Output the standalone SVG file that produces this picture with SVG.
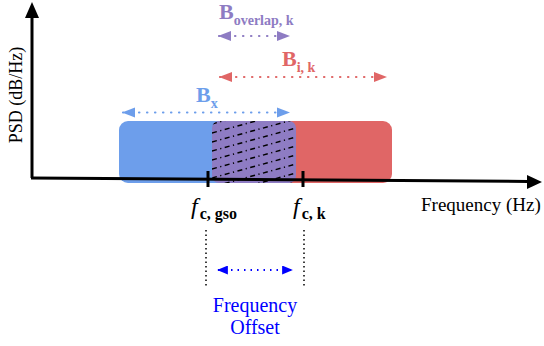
<svg xmlns="http://www.w3.org/2000/svg" width="544" height="346" viewBox="0 0 544 346">
<style>
.serif{font-family:"Liberation Serif","Times New Roman",serif}
.b{font-weight:bold}
.dot{fill:none;stroke-width:2.2;stroke-dasharray:0.4 7.6;stroke-linecap:round}
.hatch{stroke:#000;stroke-width:1.4;stroke-dasharray:5 3.5 1.2 3.5;fill:none}
</style>
<defs>
<marker id="hb" viewBox="0 0 13 10" refX="12" refY="5" markerWidth="6" markerHeight="4.6" orient="auto-start-reverse" markerUnits="strokeWidth"><path d="M0,0L13,5L0,10z" fill="#6d9eeb"/></marker>
<marker id="hr" viewBox="0 0 13 10" refX="12" refY="5" markerWidth="6" markerHeight="4.6" orient="auto-start-reverse" markerUnits="strokeWidth"><path d="M0,0L13,5L0,10z" fill="#e06666"/></marker>
<marker id="hp" viewBox="0 0 13 10" refX="12" refY="5" markerWidth="6" markerHeight="4.6" orient="auto-start-reverse" markerUnits="strokeWidth"><path d="M0,0L13,5L0,10z" fill="#8e7cc3"/></marker>
<marker id="hf" viewBox="0 0 12 10" refX="11" refY="5" markerWidth="6" markerHeight="5" orient="auto-start-reverse" markerUnits="strokeWidth"><path d="M0,0L12,5L0,10z" fill="#0000ff"/></marker>
<clipPath id="ov"><rect x="212" y="121" width="84" height="62" rx="7"/></clipPath>
</defs>
<g id="bands">
<rect id="band-x" x="119" y="121" width="185" height="62" rx="9" fill="#6d9eeb"/>
<rect id="band-ik" x="280" y="121" width="112" height="62" rx="9" fill="#e06666"/>
<g id="band-overlap">
<rect x="212" y="121" width="84" height="62" rx="7" fill="#8e7cc3"/>
<g clip-path="url(#ov)" class="hatch">
<line x1="212" y1="124" x2="296" y2="101"/>
<line x1="212" y1="133" x2="296" y2="110"/>
<line x1="212" y1="142" x2="296" y2="119"/>
<line x1="212" y1="151" x2="296" y2="128"/>
<line x1="212" y1="160" x2="296" y2="137"/>
<line x1="212" y1="169" x2="296" y2="146"/>
<line x1="212" y1="178" x2="296" y2="155"/>
<line x1="212" y1="187" x2="296" y2="164"/>
<line x1="212" y1="196" x2="296" y2="173"/>
<line x1="212" y1="205" x2="296" y2="182"/>
</g>
</g>
</g>
<g id="axes">
<line x1="32" y1="178" x2="32" y2="16" stroke="#000" stroke-width="3"/>
<path d="M32,2L25,18L39,18z" fill="#000"/>
<line x1="31" y1="178" x2="528" y2="181.5" stroke="#000" stroke-width="3"/>
<path d="M542,182L527,175L527,189z" fill="#000"/>
<line x1="208" y1="171" x2="208" y2="187" stroke="#000" stroke-width="3"/>
<line x1="303" y1="171" x2="303" y2="187" stroke="#000" stroke-width="3"/>
<text class="serif" font-size="18" transform="translate(22,95) rotate(-90)" text-anchor="middle">PSD (dB/Hz)</text>
<text class="serif" font-size="19" x="421" y="211">Frequency (Hz)</text>
</g>
<g id="connectors">
<line class="dot" x1="123" y1="112.5" x2="289" y2="112.5" stroke="#6d9eeb" marker-start="url(#hb)" marker-end="url(#hb)"/>
<line class="dot" x1="220" y1="77" x2="386" y2="77" stroke="#e06666" marker-start="url(#hr)" marker-end="url(#hr)"/>
<line class="dot" x1="219" y1="36" x2="289" y2="36" stroke="#8e7cc3" marker-start="url(#hp)" marker-end="url(#hp)"/>
<line x1="206" y1="230" x2="206" y2="286" stroke="#000" stroke-width="1.5" stroke-dasharray="1.5 3"/>
<line x1="304" y1="230" x2="304" y2="286" stroke="#000" stroke-width="1.5" stroke-dasharray="1.5 3"/>
<line x1="218" y1="270" x2="292" y2="270" stroke="#0000ff" stroke-width="1.8" stroke-dasharray="1.5 5" marker-start="url(#hf)" marker-end="url(#hf)"/>
</g>
<g id="labels">
<text class="serif b" font-size="22" x="196" y="102" fill="#6d9eeb">B<tspan font-size="14" dy="6">x</tspan></text>
<text class="serif b" font-size="22" x="282" y="66" fill="#e06666">B<tspan font-size="14" dy="6">i, k</tspan></text>
<text class="serif b" font-size="22" x="219" y="19" fill="#8e7cc3">B<tspan font-size="14" dy="6">overlap, k</tspan></text>
<text class="serif" font-size="24" x="191" y="214"><tspan font-style="italic">f</tspan><tspan class="b" font-size="16" dy="5" dx="2">c, gso</tspan></text>
<text class="serif" font-size="24" x="293" y="214"><tspan font-style="italic">f</tspan><tspan class="b" font-size="16" dy="5" dx="2">c, k</tspan></text>
<text class="serif" font-size="20" x="255" y="312" text-anchor="middle" fill="#0000ff">Frequency</text>
<text class="serif" font-size="20" x="255" y="334" text-anchor="middle" fill="#0000ff">Offset</text>
</g>
</svg>
